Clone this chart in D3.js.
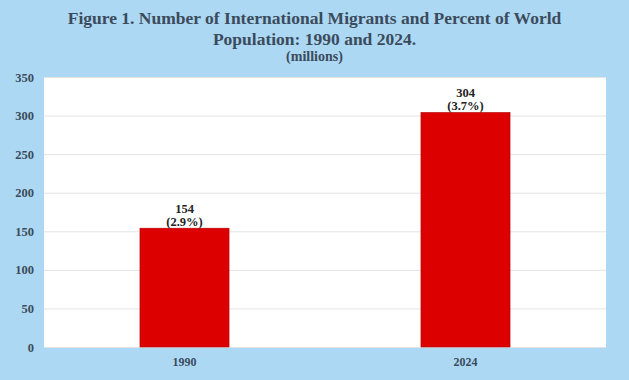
<!DOCTYPE html>
<html><head><meta charset="utf-8">
<script src="https://cdn.jsdelivr.net/npm/d3@7"></script>
<style>html,body{margin:0;padding:0;background:#acd8f3;}</style>
</head><body>
<svg id="c" width="629" height="380"></svg>
<script>
const categories = ["1990", "2024"];
const values = [154, 304];
const percents = ["(2.9%)", "(3.7%)"];
const yTicks = [0, 50, 100, 150, 200, 250, 300, 350];
const titleLines = ["Figure 1. Number of International Migrants and Percent of World", "Population: 1990 and 2024."];
const subtitle = "(millions)";

const W = 629, H = 380;
const m = {left: 44, right: 23, top: 77, bottom: 33};
const svg = d3.select("#c");
const font = "'Liberation Serif','Times New Roman',serif";
const txt = "#3b4b5c";

svg.append("rect").attr("width", W).attr("height", H).attr("fill", "#acd8f3");

const x = d3.scaleBand().domain(categories).range([m.left, W - m.right]).paddingInner(0.683).paddingOuter(0.3415);
const y = d3.scaleLinear().domain([0, 350]).range([H - m.bottom, m.top]);

svg.append("rect").attr("x", m.left).attr("y", m.top).attr("width", W - m.left - m.right).attr("height", H - m.top - m.bottom).attr("fill", "#ffffff");

const yAxis = d3.axisLeft(y).tickValues(yTicks).tickSize(-(W - m.left - m.right)).tickPadding(10);
const gy = svg.append("g").attr("transform", `translate(${m.left},0)`).call(yAxis);
gy.select(".domain").remove();
gy.selectAll(".tick line").attr("stroke", "#e3e3e3").attr("stroke-width", 1);
gy.selectAll(".tick text").attr("fill", txt).attr("font-family", font).attr("font-weight", "bold").attr("font-size", 12.5);

const xAxis = d3.axisBottom(x).tickSize(0).tickPadding(10);
const gx = svg.append("g").attr("transform", `translate(0,${H - m.bottom})`).call(xAxis);
gx.select(".domain").remove();
gx.selectAll(".tick text").attr("fill", txt).attr("font-family", font).attr("font-weight", "bold").attr("font-size", 12);

svg.selectAll("rect.bar").data(values).join("rect").attr("class", "bar")
  .attr("x", (d, i) => x(categories[i])).attr("width", x.bandwidth())
  .attr("y", d => y(d)).attr("height", d => y(0) - y(d))
  .attr("fill", "#dc0000").attr("stroke", "#b00000").attr("stroke-width", 0.6);

const lab = svg.selectAll("g.lab").data(values).join("g").attr("class", "lab");
lab.append("text").attr("x", (d, i) => x(categories[i]) + x.bandwidth() / 2).attr("y", d => y(d) - 15)
  .attr("text-anchor", "middle").attr("font-family", font).attr("font-weight", "bold").attr("font-size", 12.5).attr("fill", "#222")
  .text(d => d);
lab.append("text").attr("x", (d, i) => x(categories[i]) + x.bandwidth() / 2).attr("y", d => y(d) - 2)
  .attr("text-anchor", "middle").attr("font-family", font).attr("font-weight", "bold").attr("font-size", 12.5).attr("fill", "#222")
  .text((d, i) => percents[i]);

svg.selectAll("text.title").data(titleLines).join("text").attr("class", "title")
  .attr("x", W / 2).attr("y", (d, i) => 24 + i * 20.5)
  .attr("text-anchor", "middle").attr("font-family", font).attr("font-weight", "bold").attr("font-size", 17.5).attr("fill", txt)
  .text(d => d);
svg.append("text").attr("x", W / 2).attr("y", 61).attr("text-anchor", "middle").attr("font-family", font)
  .attr("font-weight", "bold").attr("font-size", 14).attr("fill", txt).text(subtitle);
</script>
</body></html>
